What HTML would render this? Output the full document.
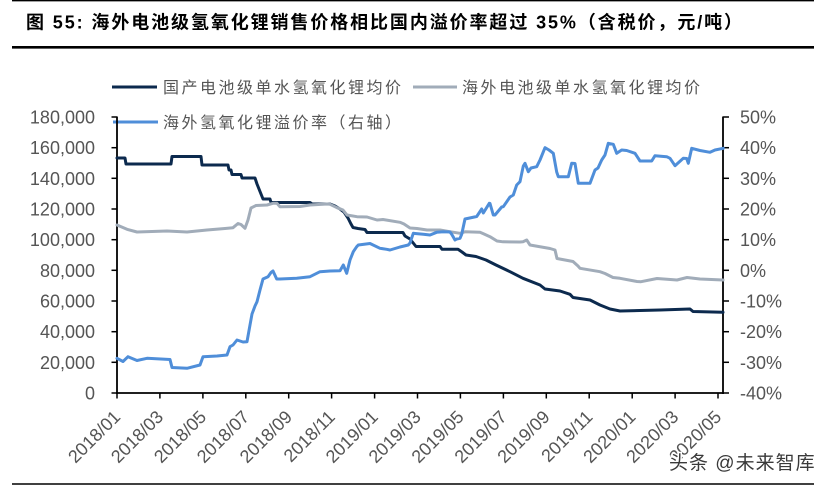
<!DOCTYPE html>
<html>
<head>
<meta charset="utf-8">
<style>
  html,body{margin:0;padding:0;background:#fff;}
  svg{display:block;}
  .cjk{font-family:"Liberation Sans","Noto Sans CJK SC",sans-serif;}
  .num{font-family:"Liberation Sans",sans-serif;font-size:18px;fill:#555;}
</style>
</head>
<body>
<svg width="833" height="486" viewBox="0 0 833 486" xmlns="http://www.w3.org/2000/svg">
  <rect width="833" height="486" fill="#fff"/>
  <!-- frame lines -->
  <line x1="12" y1="0.7" x2="814" y2="0.7" stroke="#000" stroke-width="1.3"/>
  <line x1="12" y1="47.3" x2="814" y2="47.3" stroke="#000" stroke-width="2.6"/>
  <line x1="12" y1="484" x2="814" y2="484" stroke="#000" stroke-width="1.5"/>

  <!-- title -->
  <text x="26" y="28.5" class="cjk" font-size="18" font-weight="bold" letter-spacing="1.9" fill="#000">图 55: 海外电池级氢氧化锂销售价格相比国内溢价率超过 35%（含税价，元/吨）</text>

  <!-- legend -->
  <line x1="112" y1="87" x2="157" y2="87" stroke="#0c2a4e" stroke-width="3"/>
  <text x="163" y="93" class="cjk" font-size="16" letter-spacing="2.5" fill="#555">国产电池级单水氢氧化锂均价</text>
  <line x1="413" y1="87" x2="457" y2="87" stroke="#a1acb9" stroke-width="3"/>
  <text x="462" y="93" class="cjk" font-size="16" letter-spacing="2.5" fill="#555">海外电池级单水氢氧化锂均价</text>
  <line x1="113" y1="122" x2="158" y2="122" stroke="#4f8ed9" stroke-width="3"/>
  <text x="163" y="128" class="cjk" font-size="16" letter-spacing="2.5" fill="#555">海外氢氧化锂溢价率（右轴）</text>

  <!-- left axis labels -->
  <g class="num" text-anchor="end">
    <text x="95" y="399.5">0</text>
    <text x="95" y="368.8">20,000</text>
    <text x="95" y="338.2">40,000</text>
    <text x="95" y="307.5">60,000</text>
    <text x="95" y="276.8">80,000</text>
    <text x="95" y="246.2">100,000</text>
    <text x="95" y="215.5">120,000</text>
    <text x="95" y="184.8">140,000</text>
    <text x="95" y="154.2">160,000</text>
    <text x="95" y="123.5">180,000</text>
  </g>
  <!-- right axis labels -->
  <g class="num" text-anchor="start">
    <text x="740" y="399.5">-40%</text>
    <text x="740" y="368.8">-30%</text>
    <text x="740" y="338.2">-20%</text>
    <text x="740" y="307.5">-10%</text>
    <text x="740" y="276.8">0%</text>
    <text x="740" y="246.2">10%</text>
    <text x="740" y="215.5">20%</text>
    <text x="740" y="184.8">30%</text>
    <text x="740" y="154.2">40%</text>
    <text x="740" y="123.5">50%</text>
  </g>

  <!-- axes -->
  <g stroke="#000" stroke-width="1.8" fill="none">
    <line x1="117" y1="116.5" x2="117" y2="394"/>
    <line x1="723" y1="116.5" x2="723" y2="394"/>
    <line x1="116" y1="393" x2="724" y2="393"/>
  </g>
  <g stroke="#000" stroke-width="1.5">
    <line x1="111.5" y1="393" x2="117" y2="393"/>
    <line x1="111.5" y1="362.3" x2="117" y2="362.3"/>
    <line x1="111.5" y1="331.7" x2="117" y2="331.7"/>
    <line x1="111.5" y1="301" x2="117" y2="301"/>
    <line x1="111.5" y1="270.3" x2="117" y2="270.3"/>
    <line x1="111.5" y1="239.7" x2="117" y2="239.7"/>
    <line x1="111.5" y1="209" x2="117" y2="209"/>
    <line x1="111.5" y1="178.3" x2="117" y2="178.3"/>
    <line x1="111.5" y1="147.7" x2="117" y2="147.7"/>
    <line x1="111.5" y1="117" x2="117" y2="117"/>
    <line x1="723" y1="393" x2="729" y2="393"/>
    <line x1="723" y1="362.3" x2="729" y2="362.3"/>
    <line x1="723" y1="331.7" x2="729" y2="331.7"/>
    <line x1="723" y1="301" x2="729" y2="301"/>
    <line x1="723" y1="270.3" x2="729" y2="270.3"/>
    <line x1="723" y1="239.7" x2="729" y2="239.7"/>
    <line x1="723" y1="209" x2="729" y2="209"/>
    <line x1="723" y1="178.3" x2="729" y2="178.3"/>
    <line x1="723" y1="147.7" x2="729" y2="147.7"/>
    <line x1="723" y1="117" x2="729" y2="117"/>
    <line x1="117" y1="393" x2="117" y2="398.5"/>
    <line x1="159.9" y1="393" x2="159.9" y2="398.5"/>
    <line x1="202.9" y1="393" x2="202.9" y2="398.5"/>
    <line x1="245.8" y1="393" x2="245.8" y2="398.5"/>
    <line x1="288.7" y1="393" x2="288.7" y2="398.5"/>
    <line x1="331.6" y1="393" x2="331.6" y2="398.5"/>
    <line x1="374.6" y1="393" x2="374.6" y2="398.5"/>
    <line x1="417.5" y1="393" x2="417.5" y2="398.5"/>
    <line x1="460.4" y1="393" x2="460.4" y2="398.5"/>
    <line x1="503.4" y1="393" x2="503.4" y2="398.5"/>
    <line x1="546.3" y1="393" x2="546.3" y2="398.5"/>
    <line x1="589.2" y1="393" x2="589.2" y2="398.5"/>
    <line x1="632.2" y1="393" x2="632.2" y2="398.5"/>
    <line x1="675.1" y1="393" x2="675.1" y2="398.5"/>
    <line x1="718" y1="393" x2="718" y2="398.5"/>
  </g>

  <!-- x labels -->
  <g class="num" text-anchor="end">
    <text transform="translate(121.5,418) rotate(-45)">2018/01</text>
    <text transform="translate(164.4,418) rotate(-45)">2018/03</text>
    <text transform="translate(207.4,418) rotate(-45)">2018/05</text>
    <text transform="translate(250.3,418) rotate(-45)">2018/07</text>
    <text transform="translate(293.2,418) rotate(-45)">2018/09</text>
    <text transform="translate(336.1,418) rotate(-45)">2018/11</text>
    <text transform="translate(379.1,418) rotate(-45)">2019/01</text>
    <text transform="translate(422,418) rotate(-45)">2019/03</text>
    <text transform="translate(464.9,418) rotate(-45)">2019/05</text>
    <text transform="translate(507.9,418) rotate(-45)">2019/07</text>
    <text transform="translate(550.8,418) rotate(-45)">2019/09</text>
    <text transform="translate(593.7,418) rotate(-45)">2019/11</text>
    <text transform="translate(636.7,418) rotate(-45)">2020/01</text>
    <text transform="translate(679.6,418) rotate(-45)">2020/03</text>
    <text transform="translate(722.5,418) rotate(-45)">2020/05</text>
  </g>

  <!-- series -->
  <g fill="none" stroke-width="3" stroke-linejoin="round" stroke-linecap="round">
    <polyline stroke="#0c2a4e" points="117,158 125,158 126,164 171,164 172,156.5 201,156.5 202,165 228,165 229,170 231,170 232,174.5 241,174.5 242,178 255,178 257,184 259,189 261,194 263,199 270,199 271,202.5 310,202.5 312,204 330,204 335,206 340,209 344,212 348,218 351,224 353,227.5 358,228.5 365,229.5 367,232.5 403,232.5 405,236 410,239 414,244 416,246.5 440,246.5 442,249.3 458,249.3 462,252 466,255 476,256.5 486,260 496,265 510,271.7 523,278.3 540,285 545,289 560,291 570,294.3 573,297.5 590,300 600,305 610,309 620,311 660,310 690,309 693,311.5 723,312.3"/>
    <polyline stroke="#a1acb9" points="117,225 127,229.3 137,232 167,231 187,232 207,230 225,228.5 233,227.7 238,223.5 241,224.5 245,228.3 248,220 251,208 256,205.5 267,205 273,203.3 277,203.3 280,206.8 300,206.5 310,205 327,204 330,204.3 337,207.7 343,210 347,215 357,216.7 367,217 377,220 383,219.5 400,222.3 404,224 410,228 417,228.5 427,230 440,230 450,231.7 460,233.3 465,231.8 480,232.3 484,234 490,236.7 497,241 503,241.8 520,242 523,241.7 526.7,240 530,245 550,248.5 555,250 557,258.5 573,261.5 578,266 580,268.3 600,271.7 605,273.5 613,277.5 620,278.3 637,281.5 641,281.7 657,278.5 677,280 687,277.5 700,279 723,280"/>
    <polyline stroke="#4f8ed9" points="117,358.3 123,361.5 128,356.7 137,360.5 147,358.3 170,359.5 172,367.5 187,368.3 200,365 203,356.7 217,356 227,355 230,346.7 233,345 237,340 243,342 247,341.7 250,325 252,314 255,306 257,301.7 260,290 263,279 268,276.7 271,272.5 273,271 276.7,279 280,279 296.7,278.3 310,276.7 320,271.7 330,271 340,270.7 343.3,265 346.7,273.3 350,260 353.3,251.7 356.7,246.7 358.3,245 370,243.5 380,248.3 386.7,249.3 390,250 400,247 408.3,245 410,243 413.3,233.3 415,233.5 423.3,234.3 430,235 436.7,232.3 443.3,231.7 450,232 451.7,234.3 455,240 456.7,239 460,238.3 461.7,234.3 465,219 476.7,216.5 481.7,209 483.3,213 489.3,203.3 490,203.5 493.3,215 495,215 501.7,207 503.3,206.7 510,197 513.3,195 516.7,185 520,181.7 523.3,166 525,163.3 528.3,171.7 531,168 536.7,166.7 540,160 545,147.7 549,150 553.3,153.3 556.7,172 558.3,176.7 568.3,176.7 571.7,163.3 575,163.5 578.3,183.3 590,183.3 595,170 598,168 601.7,160 605,155 608.3,143.3 613.3,144.3 616.7,153.3 621.7,150 626.7,150.5 635,153.3 640,161 651.7,161 655,155.7 666.7,156.7 670,158.3 675,165.7 683.3,158.3 686.7,158.5 688.3,163.3 691.7,148.3 700,150.5 710,152.3 715,150 723.3,148.3"/>
  </g>

  <!-- watermark -->
  <text x="669" y="469" class="cjk" font-size="19" letter-spacing="1" fill="#3a3a3a" stroke="#fff" stroke-width="3" paint-order="stroke">头条 @未来智库</text>
</svg>
</body>
</html>
